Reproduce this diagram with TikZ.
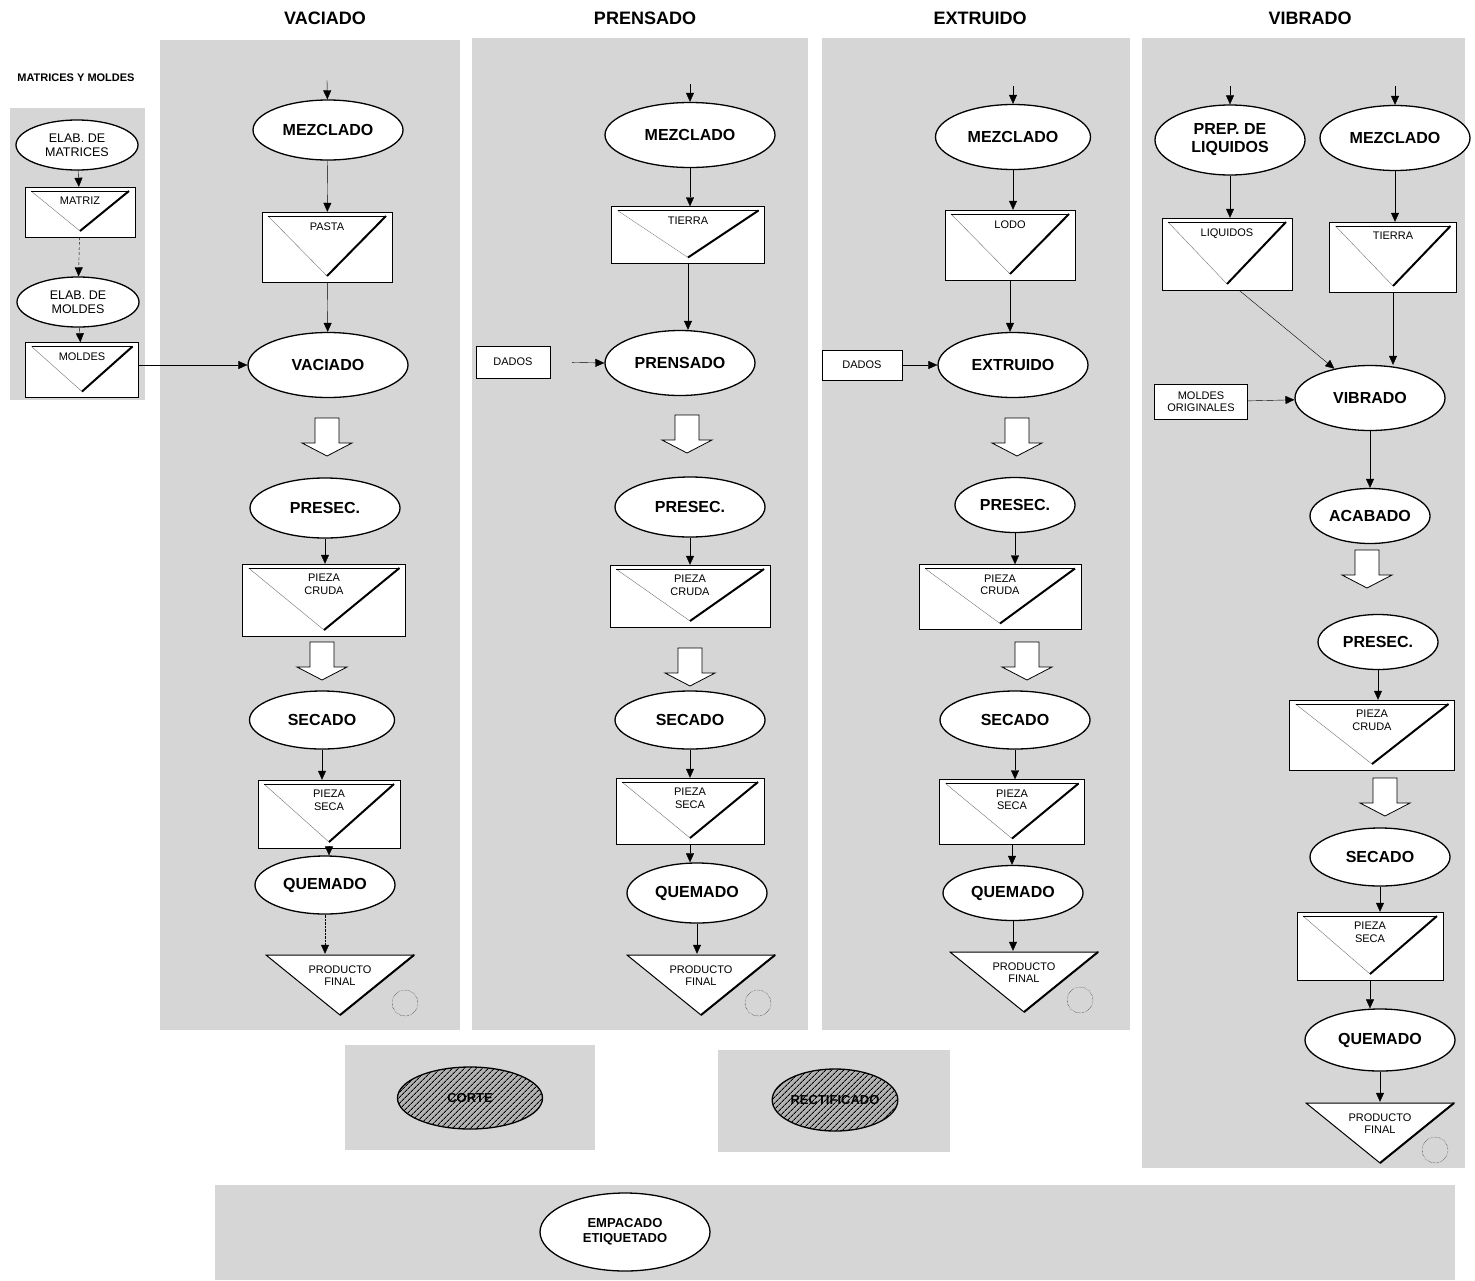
\documentclass[tikz,border=0pt]{standalone}
\usepackage{fontspec}
\setmainfont{Liberation Sans}
\usetikzlibrary{arrows.meta,positioning,shapes,patterns.meta}

\begin{document}
\begin{tikzpicture}[x=1pt,y=-1pt,>={Triangle[length=9pt,width=8pt]},
  fondo/.style={fill=black!16,draw=none},
  titulo/.style={font=\fontsize{18}{20}\selectfont\bfseries},
  grupo/.style={font=\fontsize{11}{13}\selectfont\bfseries},
  proceso/.style={draw,ellipse,fill=white,line width=1.3pt,inner sep=0pt,align=center,font=\fontsize{16}{18}\selectfont\bfseries},
  elab/.style={proceso,font=\fontsize{12.5}{14}\selectfont},
  etiq/.style={font=\fontsize{11}{12.5}\selectfont,align=center},
  almacen/.style={draw,fill=white,inner sep=0pt,label={[etiq,anchor=north,yshift=-7pt]north:#1},path picture={
    \draw[black!55] ([shift={(6pt,-4pt)}]path picture bounding box.north west) -- ([yshift=6pt]path picture bounding box.south);
    \draw ([shift={(6pt,-4pt)}]path picture bounding box.north west) -- ([shift={(-6pt,-4pt)}]path picture bounding box.north east);
    \draw[line width=2pt] ([yshift=6pt]path picture bounding box.south) -- ([shift={(-6pt,-4pt)}]path picture bounding box.north east);}},
  producto/.style={inner sep=0pt,minimum width=150,minimum height=62,label={[etiq,anchor=north,yshift=-8pt]north:PRODUCTO\\FINAL},path picture={
    \draw[fill=white,line width=1pt] ([shift={(1pt,-1pt)}]path picture bounding box.north west) -- ([shift={(-1pt,-1pt)}]path picture bounding box.north east) -- ([yshift=1pt]path picture bounding box.south) -- cycle;
    \draw[line width=2pt] ([yshift=1pt]path picture bounding box.south) -- ([shift={(-1pt,-1pt)}]path picture bounding box.north east);}},
  caja/.style={draw,fill=white,inner sep=3pt,align=center,font=\fontsize{11}{12}\selectfont},
  marca/.style={draw,circle,densely dotted,minimum size=26pt,inner sep=0pt},
  rayado/.style={draw,ellipse,line width=1.3pt,preaction={fill=black!30},pattern={Lines[angle=45,distance=4pt,line width=1pt]},inner sep=0pt,font=\fontsize{13}{15}\selectfont\bfseries},
  flecha/.pic={\draw[fill=white,line width=0.8pt] (-12pt,0pt) -- (12pt,0pt) -- (12pt,-25pt) -- (25pt,-25pt) -- (0pt,-38pt) -- (-25pt,-25pt) -- (-12pt,-25pt) -- cycle;}]
\useasboundingbox (0,0) rectangle (1475,1280);

\fill[fondo] (10,108) rectangle (145,400);
\fill[fondo] (160,40) rectangle (460,1030);
\fill[fondo] (472,38) rectangle (808,1030);
\fill[fondo] (822,38) rectangle (1130,1030);
\fill[fondo] (1142,38) rectangle (1465,1168);
\fill[fondo] (345,1045) rectangle (595,1150);
\fill[fondo] (718,1050) rectangle (950,1152);
\fill[fondo] (215,1185) rectangle (1455,1280);

\node[titulo] (t1) at (325,18) {VACIADO};
\node[titulo] (t2) at (645,18) {PRENSADO};
\node[titulo] (t3) at (980,18) {EXTRUIDO};
\node[titulo] (t4) at (1310,18) {VIBRADO};
\node[grupo] (t0) at (76,78) {MATRICES Y MOLDES};

% matrices y moldes
\node[elab,minimum width=122,minimum height=50] (em) at (77,145) {ELAB. DE\\MATRICES};
\node[almacen=MATRIZ,minimum width=110,minimum height=50] (matriz) at (80,212) {};
\node[elab,minimum width=122,minimum height=50] (elm) at (78,302) {ELAB. DE\\MOLDES};
\node[almacen=MOLDES,minimum width=113,minimum height=55] (mold) at (82,370) {};
\draw[->] (em) -- (matriz);
\draw[->,densely dashed] (matriz) -- (elm);
\draw[->] (elm) -- (mold);

% vaciado
\coordinate (vin) at (327,80);
\node[proceso,minimum width=150,minimum height=60] (vmez) at (328,130) {MEZCLADO};
\node[almacen=PASTA,minimum width=130,minimum height=70] (vpasta) at (327,247) {};
\node[proceso,minimum width=160,minimum height=65] (vvac) at (328,365) {VACIADO};
\pic at (327,418) {flecha};
\node[proceso,minimum width=150,minimum height=60] (vpres) at (325,508) {PRESEC.};
\node[almacen={PIEZA\\CRUDA},minimum width=163,minimum height=72] (vcruda) at (324,600) {};
\pic at (322,642) {flecha};
\node[proceso,minimum width=145,minimum height=58] (vsec) at (322,720) {SECADO};
\node[almacen={PIEZA\\SECA},minimum width=142,minimum height=68] (vseca) at (329,814) {};
\node[proceso,minimum width=140,minimum height=58] (vquem) at (325,885) {QUEMADO};
\node[producto] (vfin) at (340,985) {};
\node[marca] (vcir) at (405,1003) {};
\draw[->] (vin) -- (vmez);
\draw[->] (vmez) -- (vpasta);
\draw[->] (vpasta) -- (vvac);
\draw[->] (mold.east |- vvac) -- (vvac.west);
\draw[->] (vpres.south) -- (vpres.south |- vcruda.north);
\draw[->] (vsec.south) -- (vsec.south |- vseca.north);
\draw[->] (vseca.south) -- (vseca.south |- vquem.north);
\draw[->,densely dotted] (vquem.south) -- (vquem.south |- vfin.north);

% prensado
\coordinate (pin) at (690,84);
\node[proceso,minimum width=170,minimum height=65] (pmez) at (690,135) {MEZCLADO};
\node[almacen=TIERRA,minimum width=153,minimum height=57] (ptierra) at (688,235) {};
\node[proceso,minimum width=150,minimum height=65] (pprens) at (680,363) {PRENSADO};
\node[caja,minimum width=74,minimum height=32] (pdados) at (513,362) {DADOS};
\pic at (687,415) {flecha};
\node[proceso,minimum width=150,minimum height=60] (ppres) at (690,507) {PRESEC.};
\node[almacen={PIEZA\\CRUDA},minimum width=160,minimum height=62] (pcruda) at (690,596) {};
\pic at (690,648) {flecha};
\node[proceso,minimum width=150,minimum height=58] (psec) at (690,720) {SECADO};
\node[almacen={PIEZA\\SECA},minimum width=148,minimum height=66] (pseca) at (690,811) {};
\node[proceso,minimum width=140,minimum height=60] (pquem) at (697,893) {QUEMADO};
\node[producto] (pfin) at (701,985) {};
\node[marca] (pcir) at (758,1003) {};
\draw[->] (pin) -- (pmez);
\draw[->] (pmez.south) -- (pmez.south |- ptierra.north);
\draw[->] (ptierra.south) -- (ptierra.south |- pprens.north);
\draw[->,shorten <=22pt] (pdados.east) -- (pprens.west);
\draw[->] (ppres.south) -- (ppres.south |- pcruda.north);
\draw[->] (psec.south) -- (psec.south |- pseca.north);
\draw[->] (pseca.south) -- (pseca.south |- pquem.north);
\draw[->] (pquem.south) -- (pquem.south |- pfin.north);

% extruido
\coordinate (ein) at (1013,86);
\node[proceso,minimum width=155,minimum height=65] (emez) at (1013,137) {MEZCLADO};
\node[almacen=LODO,minimum width=130,minimum height=70] (elodo) at (1010,245) {};
\node[proceso,minimum width=150,minimum height=65] (eext) at (1013,365) {EXTRUIDO};
\node[caja,minimum width=80,minimum height=30] (edados) at (862,365) {DADOS};
\pic at (1017,418) {flecha};
\node[proceso,minimum width=120,minimum height=55] (epres) at (1015,505) {PRESEC.};
\node[almacen={PIEZA\\CRUDA},minimum width=162,minimum height=65] (ecruda) at (1000,597) {};
\pic at (1027,642) {flecha};
\node[proceso,minimum width=150,minimum height=58] (esec) at (1015,720) {SECADO};
\node[almacen={PIEZA\\SECA},minimum width=145,minimum height=65] (eseca) at (1012,812) {};
\node[proceso,minimum width=140,minimum height=55] (equem) at (1013,893) {QUEMADO};
\node[producto] (efin) at (1024,982) {};
\node[marca] (ecir) at (1080,1000) {};
\draw[->] (ein) -- (emez);
\draw[->] (emez.south) -- (emez.south |- elodo.north);
\draw[->] (elodo.south) -- (elodo.south |- eext.north);
\draw[->] (edados) -- (eext);
\draw[->] (epres.south) -- (epres.south |- ecruda.north);
\draw[->] (esec.south) -- (esec.south |- eseca.north);
\draw[->] (eseca.south) -- (eseca.south |- equem.north);
\draw[->] (equem.south) -- (equem.south |- efin.north);

% vibrado
\coordinate (iin1) at (1230,86);
\coordinate (iin2) at (1395,86);
\node[proceso,minimum width=150,minimum height=70] (iliq) at (1230,140) {PREP. DE\\LIQUIDOS};
\node[proceso,minimum width=150,minimum height=65] (imez) at (1395,138) {MEZCLADO};
\node[almacen=LIQUIDOS,minimum width=130,minimum height=72] (iliqb) at (1227,254) {};
\node[almacen=TIERRA,minimum width=127,minimum height=70] (itierra) at (1393,257) {};
\node[proceso,minimum width=150,minimum height=65] (ivib) at (1370,398) {VIBRADO};
\node[caja,minimum width=93,minimum height=35,inner sep=1pt] (imold) at (1201,402) {MOLDES\\ORIGINALES};
\node[proceso,minimum width=120,minimum height=55] (iaca) at (1370,516) {ACABADO};
\pic at (1367,550) {flecha};
\node[proceso,minimum width=120,minimum height=55] (ipres) at (1378,642) {PRESEC.};
\node[almacen={PIEZA\\CRUDA},minimum width=165,minimum height=70] (icruda) at (1372,735) {};
\pic at (1385,778) {flecha};
\node[proceso,minimum width=140,minimum height=58] (isec) at (1380,857) {SECADO};
\node[almacen={PIEZA\\SECA},minimum width=146,minimum height=68] (iseca) at (1370,946) {};
\node[proceso,minimum width=150,minimum height=62] (iquem) at (1380,1040) {QUEMADO};
\node[producto] (ifin) at (1380,1133) {};
\node[marca] (icir) at (1435,1150) {};
\draw[->] (iin1) -- (iliq);
\draw[->] (iin2) -- (imez);
\draw[->] (iliq.south) -- (iliq.south |- iliqb.north);
\draw[->] (imez.south) -- (imez.south |- itierra.north);
\draw[->] ([xshift=12pt]iliqb.south) -- (ivib);
\draw[->] (itierra.south) -- (itierra.south |- ivib.north);
\draw[->] (imold) -- (ivib);
\draw[->] (ivib.south) -- (ivib.south |- iaca.north);
\draw[->] (ipres.south) -- (ipres.south |- icruda.north);
\draw[->] (isec.south) -- (isec.south |- iseca.north);
\draw[->] (iseca.south) -- (iseca.south |- iquem.north);
\draw[->] (iquem.south) -- (iquem.south |- ifin.north);

% corte, rectificado, empacado
\node[rayado,minimum width=145,minimum height=62] (corte) at (470,1098) {CORTE};
\node[rayado,minimum width=125,minimum height=62] (rect) at (835,1100) {RECTIFICADO};
\node[proceso,minimum width=170,minimum height=78,font=\fontsize{13}{15}\selectfont\bfseries] (emp) at (625,1232) {EMPACADO\\ETIQUETADO};
\end{tikzpicture}
\end{document}
